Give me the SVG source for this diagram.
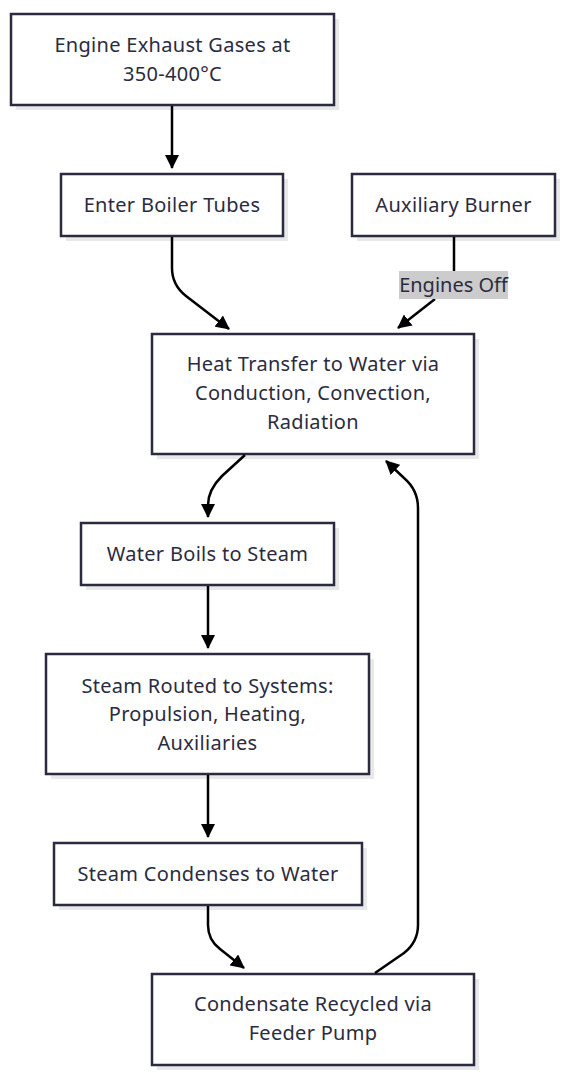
<svg xmlns="http://www.w3.org/2000/svg" width="566" height="1080" viewBox="0 0 566 1080">
<defs>
<style>
.box{fill:#ffffff;stroke:#2b2b40;stroke-width:2.5}
.sh{fill:#e9e9e9}
.t{font-family:"Noto Sans","Liberation Sans",sans-serif;font-size:20px;letter-spacing:0.3px;fill:#2b2b40;text-anchor:middle;dominant-baseline:central}
.e{fill:none;stroke:#000;stroke-width:2.5}
.lbl{fill:#cccccc}
</style>
<marker id="ah" viewBox="0 0 14 14" refX="13" refY="7" markerWidth="14" markerHeight="14" markerUnits="userSpaceOnUse" orient="auto">
<path d="M0,0 L14,7 L0,14 z" fill="#000"/>
</marker>
</defs>
<rect width="566" height="1080" fill="#ffffff"/>
<g id="n1">
<rect class="sh" x="16" y="19" width="323" height="91"/>
<rect class="box" x="11" y="14" width="323" height="91"/>
<text class="t" x="172.5" y="44">Engine Exhaust Gases at</text>
<text class="t" x="172.5" y="73">350-400°C</text>
</g>
<g id="n2">
<rect class="sh" x="66" y="179" width="222" height="62"/>
<rect class="box" x="61" y="174" width="222" height="62"/>
<text class="t" x="172" y="204">Enter Boiler Tubes</text>
</g>
<g id="n3">
<rect class="sh" x="357" y="179" width="203" height="62"/>
<rect class="box" x="352" y="174" width="203" height="62"/>
<text class="t" x="453.5" y="204">Auxiliary Burner</text>
</g>
<g id="n4">
<rect class="sh" x="157" y="339" width="322" height="120"/>
<rect class="box" x="152" y="334" width="322" height="120"/>
<text class="t" x="313" y="363">Heat Transfer to Water via</text>
<text class="t" x="313" y="392">Conduction, Convection,</text>
<text class="t" x="313" y="421">Radiation</text>
</g>
<g id="n5">
<rect class="sh" x="86" y="528" width="253" height="62"/>
<rect class="box" x="81" y="523" width="253" height="62"/>
<text class="t" x="207.5" y="553">Water Boils to Steam</text>
</g>
<g id="n6">
<rect class="sh" x="51" y="659" width="323" height="120"/>
<rect class="box" x="46" y="654" width="323" height="120"/>
<text class="t" x="207.5" y="685">Steam Routed to Systems:</text>
<text class="t" x="207.5" y="713">Propulsion, Heating,</text>
<text class="t" x="207.5" y="742">Auxiliaries</text>
</g>
<g id="n7">
<rect class="sh" x="59" y="848" width="308" height="62"/>
<rect class="box" x="54" y="843" width="308" height="62"/>
<text class="t" x="208" y="873">Steam Condenses to Water</text>
</g>
<g id="n8">
<rect class="sh" x="157" y="979" width="322" height="91"/>
<rect class="box" x="152" y="974" width="322" height="91"/>
<text class="t" x="313" y="1003">Condensate Recycled via</text>
<text class="t" x="313" y="1032">Feeder Pump</text>
</g>
<g id="connectors">
<path class="e" d="M172,106 L172,168" marker-end="url(#ah)"/>
<path class="e" d="M172,237 L172,268 Q172,285 186,296 L229,329" marker-end="url(#ah)"/>
<path class="e" d="M454,237 L454,271"/>
<path class="e" d="M435,299 L398,328" marker-end="url(#ah)"/>
<path class="e" d="M245,455 L222,476 Q208,490 208,505 L208,517" marker-end="url(#ah)"/>
<path class="e" d="M208,586 L208,648" marker-end="url(#ah)"/>
<path class="e" d="M208,775 L208,837" marker-end="url(#ah)"/>
<path class="e" d="M208,906 L208,925 Q208,940 220,949 L244,968" marker-end="url(#ah)"/>
<path class="e" d="M375,973 L404,953 Q418,942 418,925 L418,508 Q418,490 404,478 L386,461" marker-end="url(#ah)"/>
</g>
<g id="label-engines-off">
<rect class="lbl" x="399" y="271" width="109" height="28"/>
<text class="t" x="453.5" y="284" style="letter-spacing:0">Engines Off</text>
</g>
</svg>
